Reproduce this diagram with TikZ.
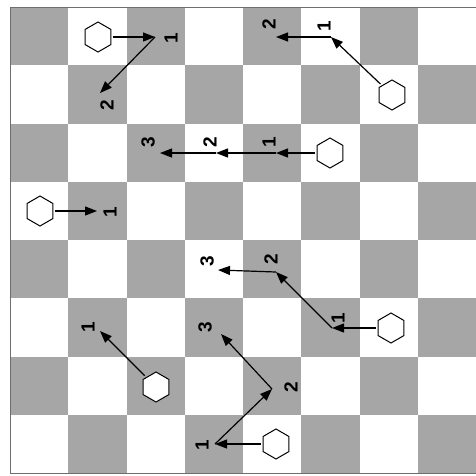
\documentclass[tikz,border=0pt]{standalone}
\usepackage{fontspec}
\setmainfont{Liberation Sans}
\usetikzlibrary{shapes.geometric,arrows.meta}
\definecolor{sqgray}{RGB}{166,166,166}
\definecolor{edgegray}{RGB}{110,110,110}
\begin{document}
\begin{tikzpicture}[x=1pt,y=-1pt,
  hexa/.style={regular polygon, regular polygon sides=6, shape border rotate=30,
    minimum size=30pt, inner sep=0pt, draw=black, line width=1pt, fill=white},
  arr/.style={-{Triangle[length=12pt,width=9pt]}, line width=1.2pt, black},
  num/.style={rotate=90, inner sep=0pt, font=\fontsize{19}{19}\selectfont\bfseries}]
\useasboundingbox (0,0) rectangle (476,475);
\fill[white] (0,0) rectangle (476,475);
% board
\foreach \r in {0,...,7}{
  \foreach \c in {0,...,7}{
    \pgfmathtruncatemacro\parity{mod(\r+\c,2)}
    \ifnum\parity=0
      \fill[sqgray] (10+58.25*\c,7+58.25*\r) rectangle ++(58.25,58.25);
    \fi
  }
}
\draw[edgegray, line width=0.8pt] (10,7) rectangle (476,473);

% group A
\node[hexa] (h1) at (98,37) {};
\coordinate (a1) at (155,37);
\coordinate (a2) at (100,93);
\draw[arr, shorten <=2pt] (h1) -- (a1);
\draw[arr] (a1) -- (a2);
\node[num] (la1) at (171,38) {1};
\node[num] (la2) at (107,105) {2};

% group B
\node[hexa] (h2) at (392,95) {};
\coordinate (b1) at (331,37);
\coordinate (b2) at (276,37);
\draw[arr, shorten <=2pt] (h2) -- (b1);
\draw[arr] (b1) -- (b2);
\node[num] (lb1) at (324,26) {1};
\node[num] (lb2) at (269,24) {2};

% group C
\node[hexa] (h3) at (330,153) {};
\coordinate (c1) at (276,153);
\coordinate (c2) at (216,153);
\coordinate (c3) at (160,153);
\draw[arr, shorten <=2pt] (h3) -- (c1);
\draw[arr] (c1) -- (c2);
\draw[arr] (c2) -- (c3);
\node[num] (lc1) at (269,142) {1};
\node[num] (lc2) at (210,142) {2};
\node[num] (lc3) at (148,142) {3};

% group D
\node[hexa] (h4) at (40,211) {};
\coordinate (d1) at (97,211);
\draw[arr, shorten <=2pt] (h4) -- (d1);
\node[num] (ld1) at (110,212) {1};

% group E
\node[hexa] (h5) at (391,328) {};
\coordinate (e1) at (332,328);
\coordinate (e2) at (276,272);
\coordinate (e3) at (218,270);
\draw[arr, shorten <=2pt] (h5) -- (e1);
\draw[arr] (e1) -- (e2);
\draw[arr] (e2) -- (e3);
\node[num] (le1) at (338,318) {1};
\node[num] (le2) at (271,259) {2};
\node[num] (le3) at (207,261) {3};

% group F
\node[hexa] (h6) at (156,387) {};
\coordinate (f1) at (100,331);
\draw[arr, shorten <=2pt] (h6) -- (f1);
\node[num] (lf1) at (88,327) {1};

% group G
\node[hexa] (h7) at (276,444) {};
\coordinate (g1) at (215,444);
\coordinate (g2) at (272,389);
\coordinate (g3) at (221,334);
\draw[arr, shorten <=2pt] (h7) -- (g1);
\draw[arr] (g1) -- (g2);
\draw[arr] (g2) -- (g3);
\node[num] (lg1) at (202,445) {1};
\node[num] (lg2) at (291,387) {2};
\node[num] (lg3) at (205,327) {3};
\end{tikzpicture}
\end{document}
